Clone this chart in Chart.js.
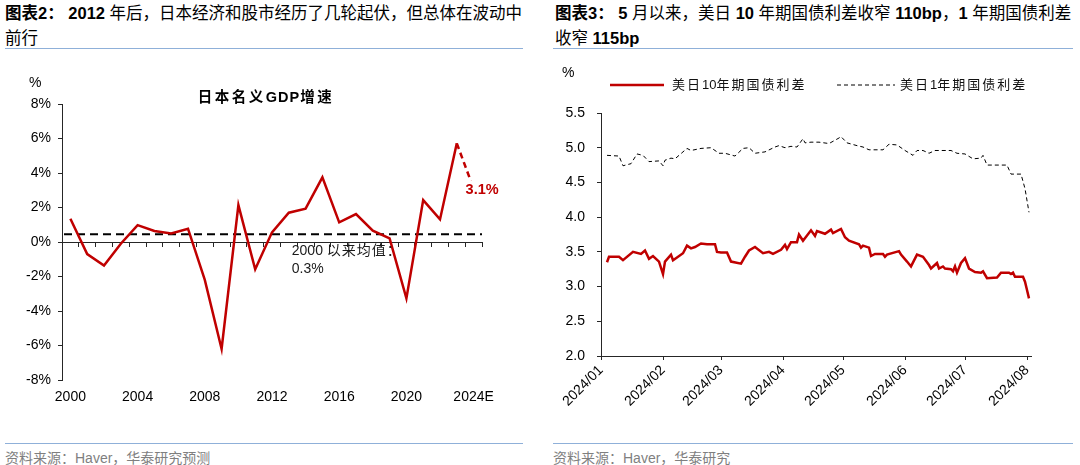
<!DOCTYPE html>
<html>
<head>
<meta charset="utf-8">
<script src="https://cdn.jsdelivr.net/npm/chart.js@4.4.1/dist/chart.umd.min.js"></script>
<style>
  html, body { margin: 0; padding: 0; background: #fff; }
  body { width: 1080px; height: 465px; position: relative; overflow: hidden;
         font-family: "Liberation Sans", Arial, "Noto Sans CJK SC", sans-serif; color: #000; }
  .abs { position: absolute; white-space: nowrap; }
  .hdr { font-size: 16.5px; line-height: 25px; top: 1px; }
  .hdr b { font-weight: bold; }
  .rule { position: absolute; height: 0; border-top: 1.5px solid #8fb0d9; }
  .src { font-size: 14px; color: #7f7f7f; top: 447px; }
  canvas { position: absolute; top: 60px; }
  .unit { font-size: 14px; }
  .legend-text { font-size: 13px; letter-spacing: 2px; line-height: 16px; top: 77px; color: #111; }
  .legend-text span { letter-spacing: 0; }
</style>
</head>
<body>
<div class="abs hdr" style="left:5px"><b>图表2：</b> <b>2012</b> 年后，日本经济和股市经历了几轮起伏，但总体在波动中<br>前行</div>
<div class="abs hdr" style="left:555px"><b>图表3：</b> <b>5</b> 月以来，美日 <b>10</b> 年期国债利差收窄 <b>110bp</b>，<b>1</b> 年期国债利差<br>收窄 <b>115bp</b></div>
<div class="rule" style="left:5px;width:518px;top:48px"></div>
<div class="rule" style="left:553px;width:520px;top:48px"></div>

<canvas id="gdpChart" width="540" height="375" style="left:0"></canvas>
<canvas id="spreadChart" width="540" height="375" style="left:540px"></canvas>

<div class="abs unit" style="left:29px;top:74px">%</div>
<div class="abs" style="left:266px;top:85px;transform:translateX(-50%);font-size:14.5px;font-weight:bold;letter-spacing:2.5px">日本名义<span style="letter-spacing:1px">GDP</span>增速</div>

<div class="abs unit" style="left:562px;top:64px">%</div>
<svg class="abs" style="left:608px;top:80px" width="300" height="10">
  <line x1="2" y1="5" x2="56" y2="5" stroke="#C00000" stroke-width="2.5"/>
  <line x1="229" y1="5" x2="287" y2="5" stroke="#000" stroke-width="1" stroke-dasharray="4 3"/>
</svg>
<div class="abs legend-text" style="left:672px">美日<span>10</span>年期国债利差</div>
<div class="abs legend-text" style="left:900px">美日<span>1</span>年期国债利差</div>

<div class="rule" style="left:5px;width:518px;top:443px"></div>
<div class="rule" style="left:553px;width:520px;top:443px"></div>
<div class="abs src" style="left:5px">资料来源：Haver，华泰研究预测</div>
<div class="abs src" style="left:553px">资料来源：Haver，华泰研究</div>

<script>
// ---- left chart: Japan nominal GDP growth (%) ----
const years = ['2000', '2001', '2002', '2003', '2004', '2005', '2006', '2007', '2008', '2009',
  '2010', '2011', '2012', '2013', '2014', '2015', '2016', '2017', '2018', '2019',
  '2020', '2021', '2022', '2023', '2024E'];
const gdpGrowth = [1.35, -0.7, -1.37, -0.1, 0.98, 0.64, 0.5, 0.77, -2.2, -6.2,
  2.14, -1.58, 0.56, 1.7, 1.93, 3.75, 1.14, 1.62, 0.66, 0.21,
  -3.27, 2.43, 1.31, 5.72, 3.1];
const avgSince2000 = 0.45;
const avgLabel = ['2000 ', '以来均值：', '0.3%'];
const forecastLabel = '3.1%';

// ---- right chart: US-Japan yield spreads (%) ----
// x values are days counted from 2024/01/01
const monthStartDays = [0, 31, 60, 91, 121, 152, 182, 213];
const monthLabels = ['2024/01', '2024/02', '2024/03', '2024/04', '2024/05', '2024/06', '2024/07', '2024/08'];

const days10y = [3, 4, 9, 11, 16, 20, 22, 24, 26, 29, 31, 32, 35, 36, 38, 41, 43, 45, 47, 50,
  53, 57, 58, 60, 63, 65, 70, 72, 74, 77, 81, 84, 86, 90, 92, 93, 95, 98, 99, 101,
  105, 107, 108, 112, 115, 116, 120, 122, 124, 129, 130, 131, 134, 135, 137, 141, 142, 143, 149, 150,
  153, 155, 158, 161, 164, 165, 168, 169, 171, 172, 175, 176, 177, 178, 180, 182, 184, 187, 190, 191,
  193, 198, 200, 204, 205, 206, 207, 211, 212, 213, 214];
const spread10y = [3.35, 3.43, 3.43, 3.38, 3.50, 3.47, 3.52, 3.40, 3.44, 3.36, 3.18, 3.36, 3.46, 3.38, 3.42, 3.48, 3.59, 3.55, 3.57, 3.62,
  3.61, 3.61, 3.50, 3.49, 3.49, 3.36, 3.33, 3.43, 3.52, 3.57, 3.48, 3.50, 3.47, 3.53, 3.60, 3.54, 3.64, 3.64, 3.75, 3.66,
  3.81, 3.73, 3.80, 3.76, 3.82, 3.77, 3.83, 3.71, 3.66, 3.61, 3.56, 3.59, 3.56, 3.44, 3.47, 3.47, 3.43, 3.46, 3.51, 3.46,
  3.36, 3.29, 3.46, 3.43, 3.31, 3.26, 3.34, 3.26, 3.29, 3.26, 3.25, 3.22, 3.29, 3.20, 3.34, 3.41, 3.26, 3.21, 3.20, 3.22,
  3.12, 3.13, 3.20, 3.20, 3.18, 3.20, 3.14, 3.14, 3.07, 2.95, 2.83];

const days1y = [3, 9, 11, 15, 18, 21, 24, 29, 31, 32, 35, 37, 43, 45, 50, 55, 59, 62, 67, 71,
  74, 77, 82, 87, 89, 92, 95, 98, 101, 102, 105, 109, 114, 119, 120, 123, 128, 131, 134, 141,
  144, 148, 152, 156, 158, 161, 164, 167, 175, 178, 182, 186, 190, 191, 193, 203, 205, 210, 212, 214];
const spread1y = [4.89, 4.88, 4.74, 4.77, 4.91, 4.89, 4.80, 4.81, 4.74, 4.82, 4.85, 4.84, 4.99, 4.96, 4.99, 5.00, 4.92, 4.92, 4.88, 4.99,
  5.00, 4.92, 4.94, 5.01, 5.03, 5.00, 5.02, 5.01, 5.13, 5.07, 5.08, 5.08, 5.06, 5.14, 5.16, 5.07, 5.03, 5.01, 4.97, 4.97,
  5.05, 5.04, 4.96, 4.89, 4.96, 4.96, 4.92, 4.96, 4.96, 4.92, 4.91, 4.84, 4.85, 4.89, 4.75, 4.75, 4.62, 4.62, 4.41, 4.07];

const red = '#C00000';
const axisColor = '#262626';

Chart.defaults.font.family = '"Liberation Sans", Arial, "Noto Sans CJK SC", sans-serif';
Chart.defaults.font.size = 14;
Chart.defaults.color = '#000';

// average line, note and forecast label on the GDP chart
const gdpNotes = {
  id: 'gdpNotes',
  beforeDatasetsDraw(chart) {
    const { ctx, chartArea, scales } = chart;
    const y = scales.y.getPixelForValue(avgSince2000);
    ctx.save();
    ctx.strokeStyle = '#000';
    ctx.lineWidth = 2;
    ctx.setLineDash([8, 5]);
    ctx.beginPath();
    ctx.moveTo(chartArea.left + 2, y);
    ctx.lineTo(chartArea.right, y);
    ctx.stroke();
    ctx.restore();
  },
  afterDatasetsDraw(chart) {
    const { ctx, scales } = chart;
    const x = scales.x.getPixelForValue(13) + 3;
    const y1 = scales.y.getPixelForValue(-0.55);
    const y2 = scales.y.getPixelForValue(-1.6);
    ctx.save();
    ctx.fillStyle = '#1a1a1a';
    ctx.textBaseline = 'middle';
    ctx.font = '14px "Liberation Sans", "Noto Sans CJK SC"';
    ctx.fillText(avgLabel[0], x, y1);
    const w = ctx.measureText(avgLabel[0]).width;
    ctx.letterSpacing = '1px';
    ctx.fillText(avgLabel[1], x + w, y1);
    ctx.letterSpacing = '0px';
    ctx.fillText(avgLabel[2], x, y2);

    // forecast value label
    const pts = chart.getDatasetMeta(0).data;
    const p = pts[pts.length - 1];
    ctx.font = 'bold 14.5px "Liberation Sans", Arial';
    const tw = ctx.measureText(forecastLabel).width;
    const tx = p.x - 8;
    const ty = p.y + 1;
    ctx.fillStyle = '#fff';
    ctx.fillRect(tx - 1, ty - 9, tw + 2, 18);
    ctx.fillStyle = red;
    ctx.fillText(forecastLabel, tx, ty);
    ctx.restore();
  }
};

new Chart(document.getElementById('gdpChart'), {
  type: 'line',
  data: {
    labels: years,
    datasets: [{
      data: gdpGrowth,
      xAxisID: 'x',
      yAxisID: 'y',
      borderColor: red,
      borderWidth: 2.5,
      pointRadius: 0,
      tension: 0,
      segment: {
        borderDash: ctx => ctx.p1DataIndex === gdpGrowth.length - 1 ? [6, 4] : undefined
      }
    }]
  },
  options: {
    responsive: false,
    animation: false,
    devicePixelRatio: 1,
    layout: { padding: { top: 44, right: 58, bottom: 0, left: 0 } },
    plugins: { legend: { display: false }, tooltip: { enabled: false } },
    scales: {
      x: {
        type: 'category',
        axis: 'x',
        position: { y: 0 },
        offset: true,
        grid: { offset: true, drawOnChartArea: false, drawTicks: true, tickLength: 4, color: axisColor },
        border: { color: axisColor, width: 1 },
        ticks: { display: false }
      },
      xLabels: {
        type: 'category',
        axis: 'x',
        position: 'bottom',
        offset: true,
        grid: { display: false, drawTicks: false },
        border: { display: false },
        ticks: {
          autoSkip: false, maxRotation: 0, minRotation: 0, padding: 9,
          callback: (v, i) => (i % 4 === 0 ? years[i] : '')
        },
        afterFit: s => { s.height = 55; }
      },
      y: {
        min: -8,
        max: 8,
        ticks: { stepSize: 2, padding: 7, callback: v => v + '%' },
        grid: { drawOnChartArea: false, tickLength: 4, color: axisColor },
        border: { color: axisColor, width: 1 },
        afterFit: s => { s.width = 62; }
      }
    }
  },
  plugins: [gdpNotes]
});

new Chart(document.getElementById('spreadChart'), {
  type: 'line',
  data: {
    datasets: [{
      label: '美日10年期国债利差',
      data: days10y.map((d, i) => ({ x: d, y: spread10y[i] })),
      borderColor: red,
      borderWidth: 2.5,
      pointRadius: 0,
      tension: 0
    }, {
      label: '美日1年期国债利差',
      data: days1y.map((d, i) => ({ x: d, y: spread1y[i] })),
      borderColor: '#000',
      borderWidth: 1,
      borderDash: [4, 3],
      pointRadius: 0,
      tension: 0
    }]
  },
  options: {
    responsive: false,
    animation: false,
    devicePixelRatio: 1,
    layout: { padding: { top: 53, right: 49, bottom: 0, left: 0 } },
    plugins: { legend: { display: false }, tooltip: { enabled: false } },
    scales: {
      x: {
        type: 'linear',
        min: 0,
        max: 215,
        afterBuildTicks: s => { s.ticks = monthStartDays.map(v => ({ value: v })); },
        ticks: {
          autoSkip: false, minRotation: 45, maxRotation: 45, padding: 2,
          callback: v => monthLabels[monthStartDays.indexOf(v)]
        },
        grid: { drawOnChartArea: false, tickLength: 4, color: axisColor },
        border: { color: axisColor, width: 1 },
        afterFit: s => { s.height = 79; }
      },
      y: {
        min: 2,
        max: 5.5,
        ticks: { stepSize: 0.5, padding: 12, callback: v => v.toFixed(1) },
        grid: { drawOnChartArea: false, tickLength: 4, color: axisColor },
        border: { color: axisColor, width: 1 },
        afterFit: s => { s.width = 61; }
      }
    }
  }
});
</script>
</body>
</html>
